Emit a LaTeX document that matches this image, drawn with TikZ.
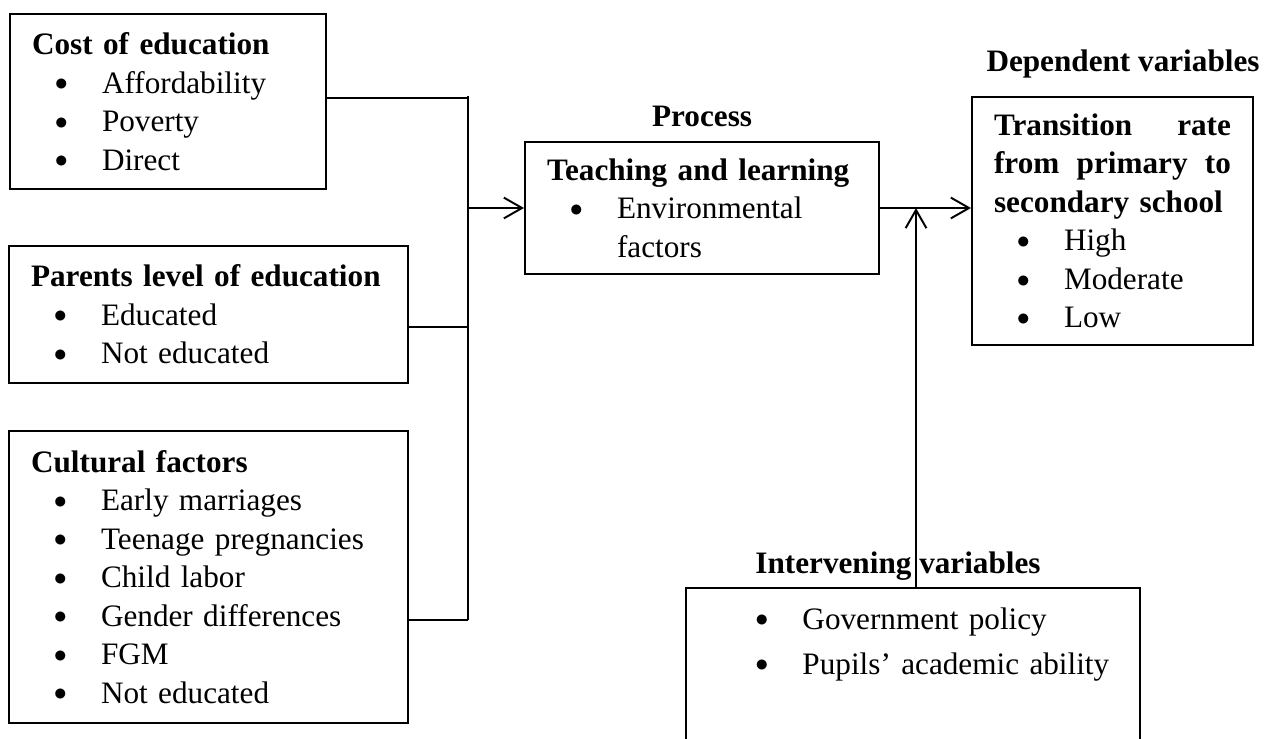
\documentclass[tikz,border=0pt]{standalone}
\usepackage{fontspec}
\setmainfont{Liberation Serif}
\usetikzlibrary{arrows.meta,positioning}

\newcommand{\bul}[1][8.8pt]{\hspace*{#1}\makebox[18.1pt][l]{\raisebox{0.9pt}{\fontsize{10}{12}\selectfont$\bullet$}}}

\begin{document}
\begin{tikzpicture}[x=0.3846pt,y=-0.3846pt,>={Straight Barb[length=7pt,width=8pt]},line width=0.75pt,
  box/.style={draw,rectangle,inner xsep=8.5pt,inner ysep=0pt,align=left,anchor=north west,font=\fontsize{12}{14.8}\selectfont},
  lbl/.style={inner sep=0pt,font=\fontsize{12}{14.8}\selectfont\bfseries}]

\useasboundingbox (0,0) rectangle (1267,738);

% independent variables
\node[box,text width=104.5pt,minimum height=67.3pt] (cost) at (9,13)
  {\textbf{Cost of education}\\\bul Affordability\\\bul Poverty\\\bul Direct};
\node[box,text width=136.5pt,minimum height=52.7pt] (parents) at (8,245)
  {\textbf{Parents level of education}\\\bul Educated\\\bul Not educated};
\node[box,text width=136.5pt,minimum height=112.3pt] (culture) at (8,430)
  {\textbf{Cultural factors}\\\bul Early marriages\\\bul Teenage pregnancies\\\bul Child labor\\\bul Gender differences\\\bul FGM\\\bul Not educated};

% process and outcome
\node[box,text width=119.2pt,minimum height=50.8pt] (proc) at (524,141)
  {\textbf{Teaching and learning}\\\bul Environmental\\\hspace*{26.9pt}factors};
\node[lbl,above=5pt of proc] (proclbl) {Process};

\node[box,text width=91.1pt,minimum height=95.4pt] (dep) at (971,96)
  {\textbf{Transition\hfill rate}\\\textbf{from\hfill primary\hfill to}\\\textbf{secondary school}\\\bul High\\\bul Moderate\\\bul Low};
\node[lbl,anchor=base] (deplbl) at (1123,72) {Dependent variables};

% intervening
\node[box,inner xsep=0pt,inner ysep=6.8pt,text width=174.6pt,text height=9pt,text depth=70pt] (interv) at (685,587)
  {\bul[26.7pt]Government policy\\[2.5pt]\bul[26.7pt]Pupils’ academic ability};
\node[lbl,anchor=base] (intlbl) at (898,573) {Intervening variables};

\coordinate (bustop) at (468,96);
\coordinate (tap1) at (468,98);
\coordinate (tap2) at (468,327);
\coordinate (tap3) at (468,620);
\coordinate (bus) at (468,208);
\coordinate (meet) at (916,208);

\draw (bustop) -- (tap3);
\draw (cost.east |- tap1) -- (tap1);
\draw (parents.east |- tap2) -- (tap2);
\draw (culture.east |- tap3) -- (tap3);
\draw[->] (bus) -- (proc.west |- bus);
\draw[->] (proc.east |- meet) -- (dep.west |- meet);
\draw[->] (interv.north -| meet) -- (meet);

\end{tikzpicture}
\end{document}
